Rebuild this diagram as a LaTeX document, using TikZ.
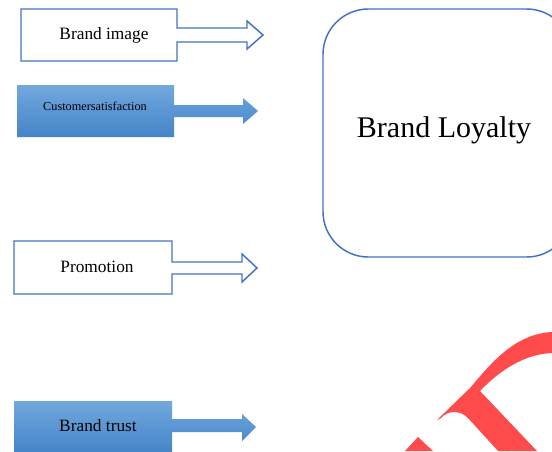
\documentclass[tikz,border=0pt]{standalone}
\usepackage{fontspec}
\setmainfont{Liberation Serif}
\definecolor{edgeblue}{RGB}{68,114,196}
\definecolor{filltop}{RGB}{114,168,221}
\definecolor{fillbot}{RGB}{68,132,200}
\definecolor{stampred}{RGB}{255,75,75}
\begin{document}
\begin{tikzpicture}[x=0.75pt,y=-0.75pt,
    openarrow/.style={draw=edgeblue,line width=1.1pt,fill=white,line join=miter},
    fullarrow/.style={top color=filltop,bottom color=fillbot,draw=none},
    txt/.style={font=\fontsize{13}{15}\selectfont,inner sep=0pt}]
                \clip (0,0) rectangle (552,451);
                \fill[white] (0,0) rectangle (552,451);

                % Factors on the left
                \draw[openarrow] (21,9) -- (177,9) -- (177,28) -- (247,28) -- (247,21) -- (263,35)
                    -- (247,49) -- (247,42) -- (177,42) -- (177,61) -- (21,61) -- cycle;
                \node[txt] (image) at (104,35) {Brand image};

                \path[fullarrow] (17,85) -- (174,85) -- (174,105) -- (243,105) -- (243,98) -- (258,111)
                    -- (243,124) -- (243,117) -- (174,117) -- (174,137) -- (17,137) -- cycle;
                \node[txt,font=\fontsize{9.2}{11}\selectfont] (satisfaction) at (95,106) {Customersatisfaction};

                \draw[openarrow] (14,241) -- (172,241) -- (172,262) -- (242,262) -- (242,254) -- (257,268)
                    -- (242,282) -- (242,274) -- (172,274) -- (172,294) -- (14,294) -- cycle;
                \node[txt] (promotion) at (97,266.5) {Promotion};

                \path[fullarrow] (14,401) -- (172,401) -- (172,419) -- (242,419) -- (242,414) -- (256,427)
                    -- (242,441) -- (242,432) -- (172,432) -- (172,453) -- (14,453) -- cycle;
                \node[txt] (trust) at (98,425.5) {Brand trust};

                % Outcome
                \draw[draw=edgeblue,line width=1.1pt,rounded corners=34] (323,9) rectangle (572,257);
                \node[font=\fontsize{22.5}{27}\selectfont,inner sep=0pt] (loyalty) at (444,130) {Brand Loyalty};

                % Red stamp in the corner
                \fill[stampred] (437,420) -- (470,388) .. controls (492,362) and (515,334) .. (552,332)
                    -- (552,353) .. controls (525,354) and (500,370) .. (480,391) -- (537,451) -- (498,451)
                    -- (468,418) .. controls (460,410) and (448,410) .. (441,418) -- cycle;
                \fill[stampred] (405,451) -- (418,437) -- (433,451) -- cycle;
            \end{tikzpicture}
\end{document}
